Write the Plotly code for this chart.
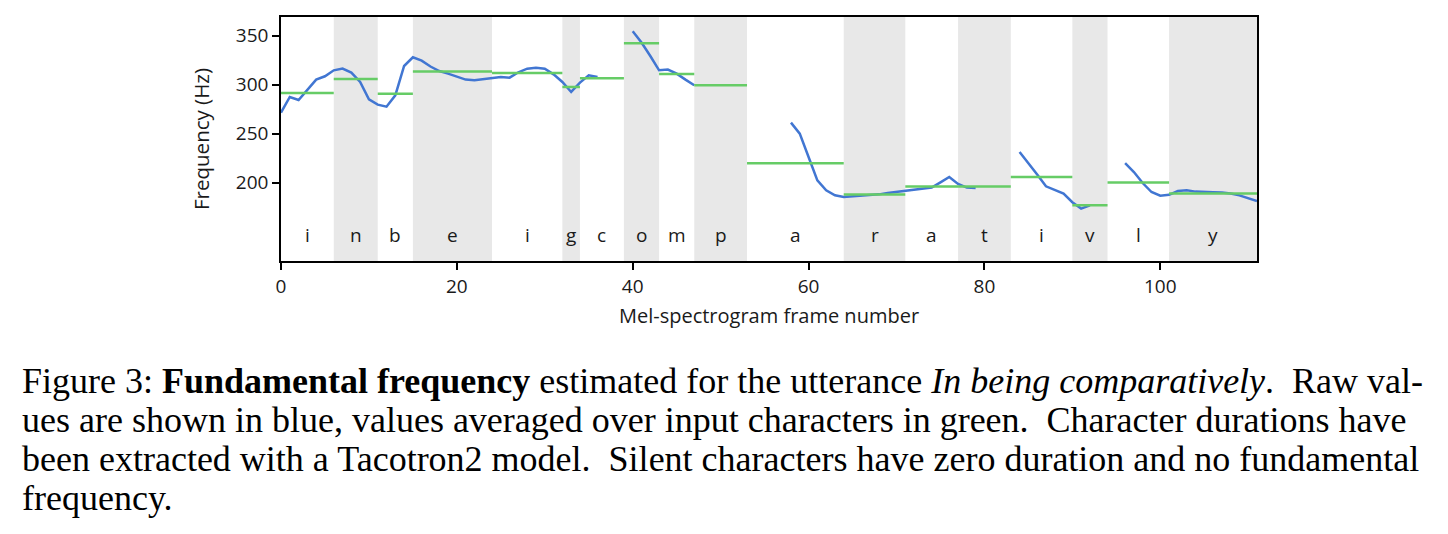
import plotly.graph_objects as go

# ---- data ----
chars = ["i", "n", "b", "e", "i", "g", "c", "o", "m", "p", "a", "r", "a", "t", "i", "v", "l", "y"]
seg_start = [0, 6, 11, 15, 24, 32, 34, 39, 43, 47, 53, 64, 71, 77, 83, 90, 94, 101]
seg_end = [6, 11, 15, 24, 32, 34, 39, 43, 47, 53, 64, 71, 77, 83, 90, 94, 101, 111]
avg_f0 = [291.4, 305.7, 290.8, 313.3, 311.9, 297.6, 306.4, 342.1, 310.9, 299.3,
          219.7, 187.8, 195.9, 195.9, 205.7, 176.8, 200.0, 188.8]

frames = list(range(0, 112))
raw_f0 = [
    271.4, 287.4, 284.3, 294.2, 305.1, 308.5, 314.6, 316.3, 312.2, 302.7,   # 0-9
    285.0, 279.6, 277.5, 289.0, 319.0, 327.9, 324.5, 318.5, 313.9, 311.2,   # 10-19
    307.8, 305.1, 304.4, 305.7, 307.1, 307.8, 307.1, 312.6, 316.3, 317.3,   # 20-29
    316.3, 310.5, 302.7, 292.5, 302.0, 309.5, 307.8, None, None, None,      # 30-39
    354.4, 342.9, 329.2, 314.6, 315.3, 311.2, 305.1, 299.3, None, None,     # 40-49
    None, None, None, None, None, None, None, None, 261.2, 250.0,           # 50-59
    226.1, 202.3, 192.1, 187.0, 185.3, 186.0, 186.7, 187.0, 188.0, 189.4,   # 60-69
    190.4, 191.8, 192.8, 193.5, 194.9, 200.3, 205.7, 198.6, 194.9, 194.5,   # 70-79
    None, None, None, None, 231.2, 220.0, 208.2, 196.2, 192.9, 188.8,       # 80-89
    180.0, 173.5, 176.8, None, None, None, 220.0, 210.8, 199.6, 190.4,      # 90-99
    186.7, 187.5, 191.4, 192.1, 190.8, 190.1, 190.1, 189.8, 188.8, 187.0,   # 100-109
    184.3, 181.2,                                                            # 110-111
]

y_ticks = [200, 250, 300, 350]
x_ticks = [0, 20, 40, 60, 80, 100]

caption_lines = [
    "Figure 3: <b>Fundamental frequency</b> estimated for the utterance <i>In being comparatively</i>.  Raw val-",
    "ues are shown in blue, values averaged over input characters in green.  Character durations have",
    "been extracted with a Tacotron2 model.  Silent characters have zero duration and no fundamental",
    "frequency.",
]

# ---- geometry (screen pixels of the reference; page body has an 8px margin) ----
PAGE_OFF = 8
PLOT_L, PLOT_R, PLOT_T, PLOT_B = 281, 1257, 17, 261
FIG_W, FIG_H = 1448 - PAGE_OFF, 534 - PAGE_OFF


def px_to_paper_x(px):
    return (px - PLOT_L) / (PLOT_R - PLOT_L)


def px_to_paper_y(py):
    return (PLOT_B - py) / (PLOT_B - PLOT_T)


SANS = "Open Sans"
TXT = "#1a1a1a"

fig = go.Figure()

shapes = []
for i, (s, e) in enumerate(zip(seg_start, seg_end)):
    if i % 2 == 1:
        shapes.append(dict(type="rect", xref="x", yref="paper", x0=s, x1=e, y0=0, y1=1,
                           fillcolor="#e8e8e8", line=dict(width=0), layer="below"))

gx, gy = [], []
for s, e, v in zip(seg_start, seg_end, avg_f0):
    gx += [s, e, None]
    gy += [v, v, None]

fig.add_trace(go.Scatter(x=frames, y=raw_f0, mode="lines",
                         line=dict(color="#4176d2", width=2.5), connectgaps=False,
                         showlegend=False, hoverinfo="skip", cliponaxis=True))
fig.add_trace(go.Scatter(x=gx, y=gy, mode="lines",
                         line=dict(color="#66cc66", width=2.5),
                         showlegend=False, hoverinfo="skip"))

annotations = []
for c, s, e in zip(chars, seg_start, seg_end):
    annotations.append(dict(x=(s + e) / 2, y=px_to_paper_y(235), xref="x", yref="paper",
                            text=c, showarrow=False, yanchor="middle",
                            font=dict(size=19, color=TXT, family=SANS)))

cap_y = [381, 420, 459, 498]
for txt, yy in zip(caption_lines, cap_y):
    annotations.append(dict(x=px_to_paper_x(20), y=px_to_paper_y(yy), xref="paper", yref="paper",
                            xanchor="left", yanchor="middle", text=txt, showarrow=False,
                            font=dict(size=36, color="#000", family="Liberation Serif")))

axis_common = dict(showline=True, linecolor="black", linewidth=1.6, mirror=True,
                   ticks="outside", ticklen=7, tickwidth=1.6, tickcolor="black",
                   showgrid=False, zeroline=False, automargin=False,
                   tickfont=dict(size=19, color=TXT, family=SANS))

fig.update_layout(
    width=FIG_W, height=FIG_H,
    margin=dict(l=PLOT_L - PAGE_OFF, r=FIG_W - (PLOT_R - PAGE_OFF),
                t=PLOT_T - PAGE_OFF, b=FIG_H - (PLOT_B - PAGE_OFF), pad=0),
    paper_bgcolor="white", plot_bgcolor="white",
    shapes=shapes, annotations=annotations,
    xaxis=dict(range=[0, 111], tickvals=x_ticks,
               title=dict(text="Mel-spectrogram frame number", standoff=11,
                          font=dict(size=20, color=TXT, family=SANS)),
               **axis_common),
    yaxis=dict(range=[120, 369], tickvals=y_ticks,
               title=dict(text="Frequency (Hz)", standoff=21,
                          font=dict(size=20.5, color=TXT, family=SANS)),
               **axis_common),
)

fig.write_html("out.html")
